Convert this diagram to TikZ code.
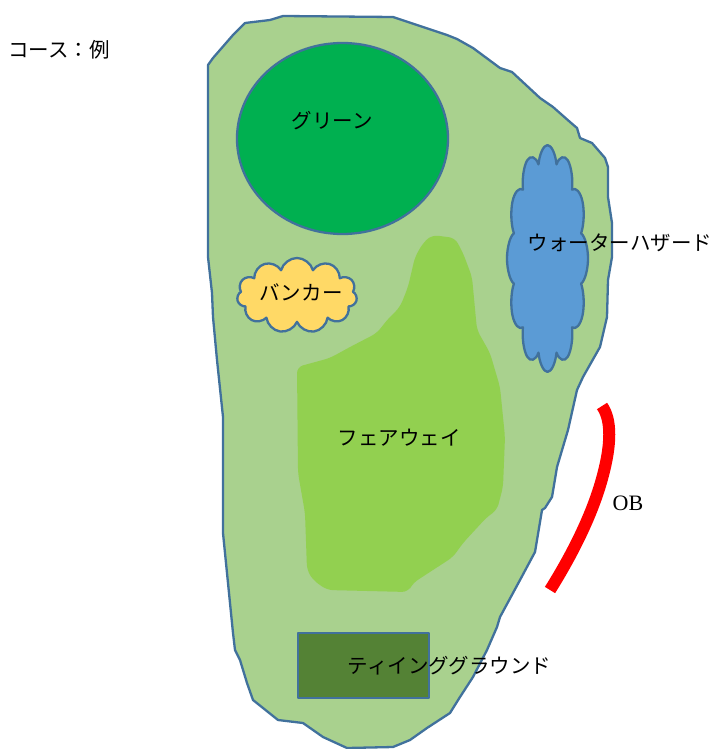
\documentclass[tikz,border=0pt]{standalone}
\usepackage{fontspec}
\newfontfamily\jpfont{Noto Sans CJK JP}
\newfontfamily\latinfont{Liberation Serif}
\usetikzlibrary{shapes.geometric,shapes.symbols}
\definecolor{roughcol}{RGB}{169,209,142}
\definecolor{edgecol}{RGB}{65,113,156}
\definecolor{greencol}{RGB}{0,176,80}
\definecolor{bunkercol}{RGB}{255,217,102}
\definecolor{watercol}{RGB}{91,155,213}
\definecolor{fairwaycol}{RGB}{146,208,80}
\definecolor{teecol}{RGB}{84,130,53}
\tikzset{
  edgeln/.style={draw=edgecol, line width=2.3pt, line join=round},
  puddle/.style={cloud, edgeln, inner sep=0pt},
  lab/.style={inner sep=0pt, font=\jpfont\fontsize{20.5}{24}\selectfont},
  obln/.style={red, line width=12pt},
}

\begin{document}
\begin{tikzpicture}[x=1pt, y=-1pt]
    \useasboundingbox (0,0) rectangle (718,749);
    % rough (whole hole)
    \fill[roughcol, edgeln] (208,65) -- (213,58) -- (233,35) -- (245,23) -- (270,20) -- (283,16)
      -- (393,17) -- (417,25) -- (447,35) -- (457,39) -- (473,48) -- (500,68) -- (512,72)
      -- (540,98) -- (553,107) -- (570,122) -- (577,128) -- (580,138) -- (592,143) -- (605,158)
      -- (608,167) -- (608,197) -- (612,223) -- (612,257) -- (608,280) -- (607,317) -- (600,347)
      -- (583,377) -- (577,390) -- (568,430) -- (557,467) -- (552,497) -- (545,508) -- (542,510)
      -- (535,552) -- (520,580) -- (500,617) -- (497,627) -- (487,650) -- (473,677) -- (460,697)
      -- (450,713) -- (427,728) -- (410,740) -- (393,747) -- (347,748) -- (323,737) -- (303,723)
      -- (278,720) -- (253,700) -- (247,683) -- (240,660) -- (235,650) -- (233,633) -- (228,583)
      -- (223,533) -- (223,417) -- (217,360) -- (213,317) -- (212,293) -- (208,257) -- cycle;
    % fairway
    \fill[fairwaycol, rounded corners=6pt] (432,235) -- (455,238) -- (463,253) -- (472,277)
      -- (477,330) -- (490,353) -- (500,387) -- (505,437) -- (503,487) -- (497,510) -- (487,517)
      -- (463,543) -- (453,557) -- (413,583) -- (408,592) -- (327,590) -- (313,580) -- (307,570)
      -- (305,513) -- (298,473) -- (297,367) -- (330,358) -- (350,347) -- (377,333) -- (387,320)
      -- (400,307) -- (408,287) -- (415,257) -- (423,243) -- cycle;
    % green, bunker, water, tee
    \node[ellipse, edgeln, fill=greencol, minimum width=211pt, minimum height=191pt] (green) at (342.5,138.5) {};
    \node[puddle, fill=bunkercol, cloud puffs=11, aspect=1.6, minimum width=120pt, minimum height=75pt] (bunker) at (297,295.5) {};
    \node[puddle, fill=watercol, cloud puffs=12, aspect=1, minimum width=81pt, minimum height=81pt,
      yscale=2.8, transform shape] (hazard) at (547.5,258.5) {};
    \node[rectangle, edgeln, fill=teecol, minimum width=131pt, minimum height=65pt] (tee) at (363.5,665.5) {};
    % out of bounds
    \draw[obln] (602,406) .. controls (612,420) and (611,445) .. (603,475)
      .. controls (594,510) and (575,550) .. (550,590);
    % labels
    \node[lab, anchor=west] (title) at (8,50) {コース：例};
    \node[lab] (greenlab) at (332,121) {グリーン};
    \node[lab] (bunkerlab) at (301,292) {バンカー};
    \node[lab] (hazardlab) at (620,243) {ウォーターハザード};
    \node[lab] (fairwaylab) at (399,438) {フェアウェイ};
    \node[lab] (teelab) at (449.5,666) {ティインググラウンド};
    \node[inner sep=0pt, font=\latinfont\fontsize{22}{26}\selectfont] (oblab) at (628,503) {OB};
  \end{tikzpicture}
\end{document}
